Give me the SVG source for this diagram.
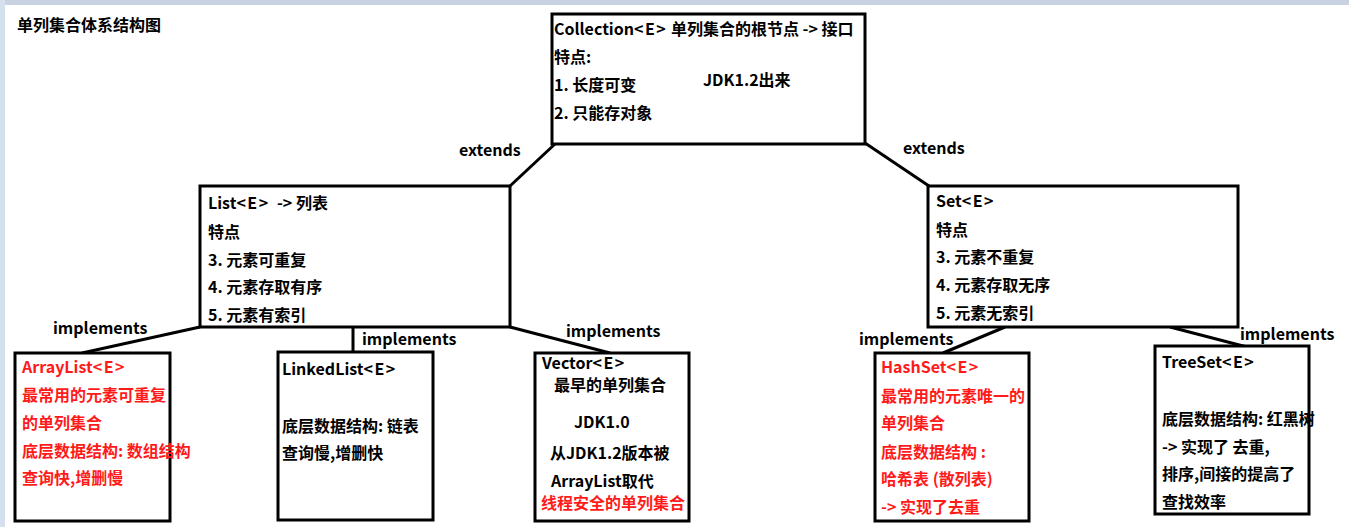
<svg xmlns="http://www.w3.org/2000/svg" width="1349" height="527" viewBox="0 0 1349 527">
<style>
text{font-family:"Noto Sans CJK SC","Noto Sans",sans-serif;font-weight:bold;font-size:16px;fill:#000;white-space:pre}
.red{fill:#ff1a1a}
.ab{letter-spacing:1.5px}
.box{fill:#fff;stroke:#000;stroke-width:3}
.conn line{stroke:#000;stroke-width:3}
</style>
<rect x="0" y="0" width="1349" height="527" fill="#fff"/>
<rect x="0" y="0" width="1349" height="5" fill="#c9d2e2"/>
<rect x="0" y="0" width="5" height="527" fill="#d5e0ef"/>
<text x="17" y="31">单列集合体系结构图</text>

<g id="connectors" class="conn">
<line x1="555" y1="144" x2="510" y2="186"/>
<line x1="865" y1="143" x2="929" y2="186"/>
<line x1="200" y1="327" x2="82" y2="353"/>
<line x1="353" y1="327" x2="353" y2="353"/>
<line x1="510" y1="327" x2="610" y2="353"/>
<line x1="1005" y1="327" x2="943" y2="353"/>
<line x1="1170" y1="327" x2="1247" y2="347"/>
</g>
<g id="labels">
<text x="459" y="156">extends</text>
<text x="903" y="154">extends</text>
<text x="53" y="334">implements</text>
<text x="362" y="345">implements</text>
<text x="566" y="337">implements</text>
<text x="859" y="345">implements</text>
<text x="1240" y="340">implements</text>
</g>

<g id="collection">
<rect class="box" x="552" y="14" width="313" height="130"/>
<text x="554" y="35">Collection<tspan class="ab">&lt;E&gt;</tspan> 单列集合的根节点 -&gt; 接口</text>
<text x="554" y="63">特点:</text>
<text x="554" y="91">1. 长度可变</text>
<text x="554" y="119">2. 只能存对象</text>
<text x="703" y="86">JDK1.2出来</text>
</g>

<g id="list">
<rect class="box" x="200" y="186" width="310" height="141"/>
<text x="208" y="209">List<tspan class="ab">&lt;E&gt;</tspan>  -&gt; 列表</text>
<text x="208" y="238">特点</text>
<text x="208" y="266">3. 元素可重复</text>
<text x="208" y="293">4. 元素存取有序</text>
<text x="208" y="321">5. 元素有索引</text>
</g>

<g id="set">
<rect class="box" x="928" y="186" width="310" height="141"/>
<text x="936" y="207">Set<tspan class="ab">&lt;E&gt;</tspan></text>
<text x="936" y="236">特点</text>
<text x="936" y="263">3. 元素不重复</text>
<text x="936" y="291">4. 元素存取无序</text>
<text x="936" y="319">5. 元素无索引</text>
</g>

<g id="arraylist">
<rect class="box" x="15" y="353" width="155" height="168"/>
<text class="red" x="22" y="373">ArrayList<tspan class="ab">&lt;E&gt;</tspan></text>
<text class="red" x="22" y="401">最常用的元素可重复</text>
<text class="red" x="22" y="429">的单列集合</text>
<text class="red" x="22" y="457">底层数据结构: 数组结构</text>
<text class="red" x="22" y="484">查询快,增删慢</text>
</g>

<g id="linkedlist">
<rect class="box" x="278" y="352" width="155" height="168"/>
<text x="282" y="375">LinkedList<tspan class="ab">&lt;E&gt;</tspan></text>
<text x="282" y="432">底层数据结构: 链表</text>
<text x="282" y="459">查询慢,增删快</text>
</g>

<g id="vector">
<rect class="box" x="535" y="353" width="154" height="168"/>
<text x="542" y="369">Vector<tspan class="ab">&lt;E&gt;</tspan></text>
<text x="554" y="391">最早的单列集合</text>
<text x="574" y="428">JDK1.0</text>
<text x="550" y="459">从JDK1.2版本被</text>
<text x="551" y="487">ArrayList取代</text>
<text class="red" x="541" y="509">线程安全的单列集合</text>
</g>

<g id="hashset">
<rect class="box" x="875" y="353" width="154" height="168"/>
<text class="red" x="881" y="373">HashSet<tspan class="ab">&lt;E&gt;</tspan></text>
<text class="red" x="881" y="402">最常用的元素唯一的</text>
<text class="red" x="881" y="429">单列集合</text>
<text class="red" x="881" y="458">底层数据结构 :</text>
<text class="red" x="881" y="485">哈希表 (散列表)</text>
<text class="red" x="881" y="513">-&gt; 实现了去重</text>
</g>

<g id="treeset">
<rect class="box" x="1155" y="346" width="154" height="168"/>
<text x="1162" y="368">TreeSet<tspan class="ab">&lt;E&gt;</tspan></text>
<text x="1162" y="425">底层数据结构: 红黑树</text>
<text x="1162" y="453">-&gt; 实现了 去重,</text>
<text x="1162" y="480">排序,间接的提高了</text>
<text x="1162" y="508">查找效率</text>
</g>
</svg>
